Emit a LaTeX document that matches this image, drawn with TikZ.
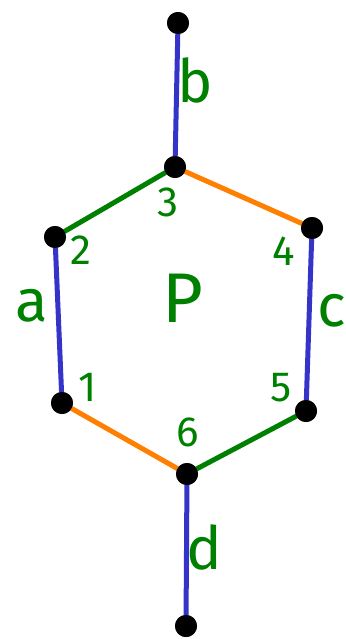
\documentclass[tikz,border=0pt]{standalone}
\usepackage{fontspec}
\setmainfont{Fira Sans}
\usepackage{xcolor}
\definecolor{penblue}{RGB}{52,52,200}
\definecolor{pengreen}{RGB}{0,128,0}
\definecolor{penorange}{RGB}{255,128,0}
\tikzset{
  vert/.style={circle, fill=black, minimum size=4.4mm, inner sep=0pt},
  edgeline/.style={line width=1mm, line cap=round},
  letterlbl/.style={text=pengreen, inner sep=0pt, font=\fontsize{34}{34}\selectfont},
  numlbl/.style={text=pengreen, inner sep=0pt, font=\fontsize{24}{24}\selectfont}
}

\begin{document}
\begin{tikzpicture}[x=0.2mm, y=-0.2mm]
\useasboundingbox (0,0) rectangle (345,639);
% vertices
\node[vert] (top) at (178,23) {};
\node[vert] (v3) at (175,167) {};
\node[vert] (v2) at (55,237) {};
\node[vert] (v4) at (312,228) {};
\node[vert] (v1) at (62,403) {};
\node[vert] (v5) at (306,411) {};
\node[vert] (v6) at (187,474) {};
\node[vert] (bot) at (186,626) {};
% edges
\draw[edgeline, penblue] (top) -- (v3);
\draw[edgeline, pengreen] (v3) -- (v2);
\draw[edgeline, penorange] (v3) -- (v4);
\draw[edgeline, penblue] (v2) -- (v1);
\draw[edgeline, penblue] (v4) -- (v5);
\draw[edgeline, penorange] (v1) -- (v6);
\draw[edgeline, pengreen] (v6) -- (v5);
\draw[edgeline, penblue] (v6) -- (bot);
% dots back on top of the line ends
\foreach \v in {top,v3,v2,v4,v1,v5,v6,bot}
  \fill (\v) circle (2.2mm);
% labels
\node[letterlbl] (lb) at (195,80) {b};
\node[letterlbl] (la) at (32,306) {a};
\node[letterlbl, font=\fontsize{40}{40}\selectfont] (lp) at (183,298) {P};
\node[letterlbl] (lc) at (332,311) {c};
\node[letterlbl] (ld) at (204,547) {d};
\node[numlbl] (n3) at (168,202) {3};
\node[numlbl] (n2) at (81,250) {2};
\node[numlbl] (n4) at (284,251) {4};
\node[numlbl] (n1) at (88,387) {1};
\node[numlbl] (n5) at (281,388) {5};
\node[numlbl] (n6) at (188,432) {6};
\end{tikzpicture}
\end{document}
